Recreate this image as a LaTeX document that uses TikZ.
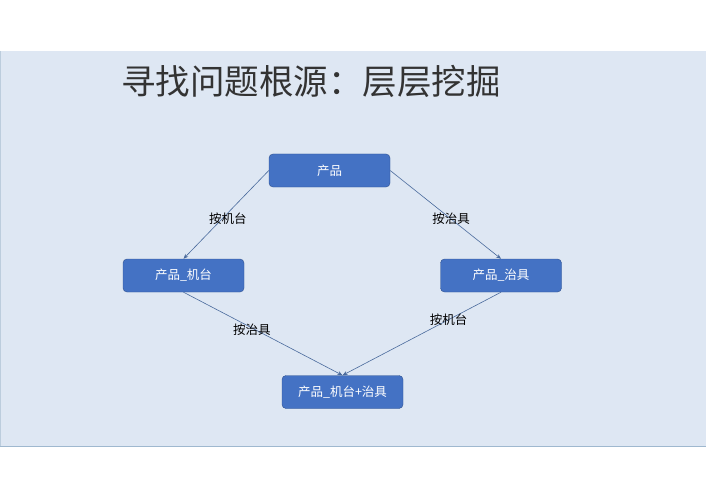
\documentclass[tikz,border=0pt]{standalone}
\usepackage{fontspec}
\usetikzlibrary{arrows.meta}
\setmainfont{Noto Sans CJK SC}
\definecolor{slidebg}{HTML}{DEE7F3}
\definecolor{slideline}{HTML}{9FB8CF}
\definecolor{boxblue}{HTML}{4472C4}
\definecolor{boxline}{HTML}{2F528F}
\definecolor{edgeblue}{HTML}{4A6A9C}
\begin{document}
\begin{tikzpicture}[x=1pt, y=-1pt, node distance=105pt,
    box/.style={rectangle, rounded corners=4pt, draw=boxline, fill=boxblue, text=white,
        minimum width=121pt, minimum height=33pt, font=\fontsize{12.5}{14}\selectfont},
    lbl/.style={text=black, font=\fontsize{12.5}{14}\selectfont},
    >={Stealth[length=5pt, width=4pt]}]
    \useasboundingbox (0,0) rectangle (707,500);
    \fill[slidebg] (0,51) rectangle (706,446);
    \draw[slideline, line width=0.8pt] (0,446) -- (706,446);
    \draw[slideline!70, line width=1pt] (0.5,51) -- (0.5,446);
    \node (title) [text=black!80, font=\fontsize{34.5}{40}\selectfont, anchor=west, inner sep=0pt] at (121,81) {寻找问题根源：层层挖掘};
    \node (prod) [box] at (329.5,170.5) {产品};
    \node (prodM) [box, below of=prod, xshift=-146pt] {产品\_机台};
    \node (prodF) [box, below of=prod, xshift=171.5pt] {产品\_治具};
    \node (both) [box, below of=prod, xshift=13pt, yshift=-116.5pt] {产品\_机台+治具};

    \draw[->, edgeblue, line width=0.6pt] (prod.west) -- node[lbl, pos=0.55, xshift=6pt] {按机台} (prodM.north);
    \draw[->, edgeblue, line width=0.6pt] (prod.east) -- node[lbl, pos=0.55] {按治具} (prodF.north);
    \draw[->, edgeblue, line width=0.6pt] (prodM.south) -- node[lbl, pos=0.43, yshift=-2pt] {按治具} (both.north);
    \draw[->, edgeblue, line width=0.6pt] (prodF.south) -- node[lbl, pos=0.33] {按机台} (both.north);
\end{tikzpicture}
\end{document}
